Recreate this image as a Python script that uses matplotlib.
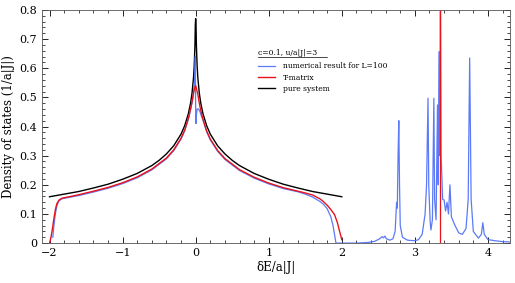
import matplotlib
matplotlib.use("Agg")
import matplotlib.pyplot as plt
from matplotlib.ticker import MultipleLocator, FuncFormatter

# pure 2D lattice density of states
pure_e = [-2.0, -1.8, -1.6, -1.4, -1.2, -1.0, -0.8, -0.6, -0.5, -0.4, -0.3, -0.2,
          -0.15, -0.1, -0.07, -0.05, -0.03, -0.02, -0.01, -0.005, 0.0,
          0.005, 0.01, 0.02, 0.03, 0.05, 0.07, 0.1, 0.15, 0.2, 0.3, 0.4, 0.5,
          0.6, 0.8, 1.0, 1.2, 1.4, 1.6, 1.8, 2.0]
pure_dos = [0.159, 0.168, 0.177, 0.189, 0.202, 0.219, 0.239, 0.266, 0.284, 0.306, 0.334, 0.374,
            0.403, 0.444, 0.480, 0.514, 0.566, 0.607, 0.677, 0.747, 0.770,
            0.747, 0.677, 0.607, 0.566, 0.514, 0.480, 0.444, 0.403, 0.374, 0.334, 0.306, 0.284,
            0.266, 0.239, 0.219, 0.202, 0.189, 0.177, 0.168, 0.159]

# T-matrix result (red)
tmat_e = [-2.0, -1.98, -1.96, -1.94, -1.92, -1.9, -1.87, -1.83, -1.75, -1.6, -1.4, -1.2,
          -1.0, -0.8, -0.6, -0.4, -0.3, -0.2, -0.15, -0.1, -0.07, -0.05, -0.03, -0.01,
          0.0, 0.01, 0.03, 0.05, 0.07, 0.1, 0.15, 0.2, 0.3, 0.4, 0.6, 0.8, 1.0, 1.2,
          1.4, 1.5, 1.6, 1.7, 1.75, 1.8, 1.85, 1.9, 1.94, 1.97, 2.0]
tmat_dos = [0.0, 0.02, 0.05, 0.085, 0.115, 0.135, 0.148, 0.154, 0.158, 0.166, 0.178, 0.191,
            0.207, 0.227, 0.254, 0.292, 0.320, 0.360, 0.388, 0.428, 0.460, 0.485, 0.515, 0.535,
            0.540, 0.530, 0.510, 0.480, 0.455, 0.425, 0.385, 0.357, 0.318, 0.290, 0.252, 0.226,
            0.206, 0.190, 0.178, 0.172, 0.165, 0.152, 0.142, 0.130, 0.115, 0.098, 0.070,
            0.040, 0.012]
bound_state_e = 3.35

# numerical result for L=100 (blue)
num_e = [-1.955, -1.94, -1.92, -1.9, -1.87, -1.83, -1.75, -1.6, -1.4, -1.2, -1.0, -0.8,
         -0.6, -0.4, -0.3, -0.2, -0.15, -0.1, -0.05, -0.03, -0.015, -0.005, 0.0, 0.003,
         0.01, 0.02, 0.04, 0.06, 0.08, 0.1, 0.15, 0.2, 0.3, 0.4, 0.6, 0.8, 1.0, 1.2,
         1.4, 1.5, 1.6, 1.7, 1.75, 1.8, 1.85, 1.88, 1.9, 1.92,
         2.2, 2.35, 2.45, 2.52, 2.55, 2.57, 2.59, 2.61, 2.66, 2.7, 2.73, 2.75, 2.76,
         2.77, 2.78, 2.79, 2.8, 2.83, 2.9, 3.0, 3.05, 3.1, 3.14, 3.16, 3.18, 3.19,
         3.21, 3.22, 3.24, 3.26, 3.27, 3.29, 3.31, 3.32, 3.33, 3.34, 3.35, 3.36, 3.38,
         3.4, 3.42, 3.44, 3.46, 3.48, 3.5, 3.55, 3.6, 3.65, 3.7, 3.73, 3.75, 3.77,
         3.8, 3.87, 3.91, 3.93, 3.95, 4.0, 4.1, 4.2, 4.3]
num_dos = [0.02, 0.06, 0.10, 0.128, 0.145, 0.152, 0.156, 0.163, 0.175, 0.188, 0.204, 0.224,
           0.251, 0.289, 0.317, 0.357, 0.385, 0.425, 0.480, 0.510, 0.560, 0.640, 0.450, 0.410,
           0.440, 0.460, 0.460, 0.450, 0.435, 0.422, 0.382, 0.354, 0.315, 0.287, 0.249, 0.223,
           0.203, 0.187, 0.176, 0.168, 0.158, 0.143, 0.133, 0.118, 0.090, 0.060, 0.030, 0.0,
           0.0, 0.002, 0.006, 0.015, 0.022, 0.018, 0.024, 0.015, 0.010, 0.015, 0.040, 0.140, 0.120,
           0.300, 0.420, 0.200, 0.060, 0.020, 0.010, 0.008, 0.012, 0.030, 0.100, 0.200, 0.497, 0.200,
           0.070, 0.045, 0.080, 0.497, 0.150, 0.080, 0.474, 0.200, 0.657, 0.300, 0.850, 0.300, 0.150,
           0.148, 0.110, 0.140, 0.100, 0.200, 0.090, 0.060, 0.035, 0.030, 0.050, 0.150, 0.635, 0.150,
           0.040, 0.017, 0.030, 0.070, 0.030, 0.012, 0.008, 0.005, 0.004]

plt.rcParams["font.family"] = "DejaVu Serif"
plt.rcParams["mathtext.fontset"] = "dejavuserif"

fig = plt.figure(figsize=(5.15, 2.83), dpi=100)
ax = fig.add_axes([0.082, 0.141, 0.908, 0.824])

l_pure, = ax.plot(pure_e, pure_dos, color="black", lw=1.0, zorder=2)
l_num, = ax.plot(num_e, num_dos, color="#4a6cf7", lw=0.9, alpha=0.9, zorder=3)
l_tmat, = ax.plot(tmat_e, tmat_dos, color="#e8121a", lw=1.0, zorder=4)
ax.vlines(bound_state_e, 0, 0.8, color="#e8121a", lw=0.9, zorder=4)

ax.set_xlim(-2.1, 4.3)
ax.set_ylim(0, 0.8)
ax.xaxis.set_major_locator(MultipleLocator(1))
ax.xaxis.set_minor_locator(MultipleLocator(0.2))
ax.yaxis.set_major_locator(MultipleLocator(0.1))
ax.yaxis.set_minor_locator(MultipleLocator(0.02))
ax.yaxis.set_major_formatter(FuncFormatter(lambda v, _: "0" if abs(v) < 1e-9 else f"{v:.1f}"))
ax.tick_params(which="both", direction="in", top=True, right=True, labelsize=8)
ax.tick_params(which="major", length=4, width=0.6)
ax.tick_params(which="minor", length=2, width=0.5)
for s in ax.spines.values():
    s.set_linewidth(0.6)
    s.set_color("#555555")

ax.set_xlabel("δE/a|J|", fontsize=8.5, labelpad=2)
ax.set_ylabel("Density of states (1/a|J|)", fontsize=8.5, labelpad=3)

ax.text(0.461, 0.80, "c=0.1, u/a|J|=3", transform=ax.transAxes, fontsize=5.5,
        ha="left", va="bottom")
ax.plot([0.461, 0.609], [0.796, 0.796], transform=ax.transAxes, color="black",
        lw=0.5, clip_on=False, scalex=False, scaley=False)
ax.legend([l_num, l_tmat, l_pure],
          ["numerical result for L=100", "T-matrix", "pure system"],
          loc="upper left", bbox_to_anchor=(0.447, 0.805), frameon=False,
          fontsize=5.5, handlelength=2.2, handletextpad=1.0, labelspacing=0.45)

fig.savefig("out.png", dpi=100)
